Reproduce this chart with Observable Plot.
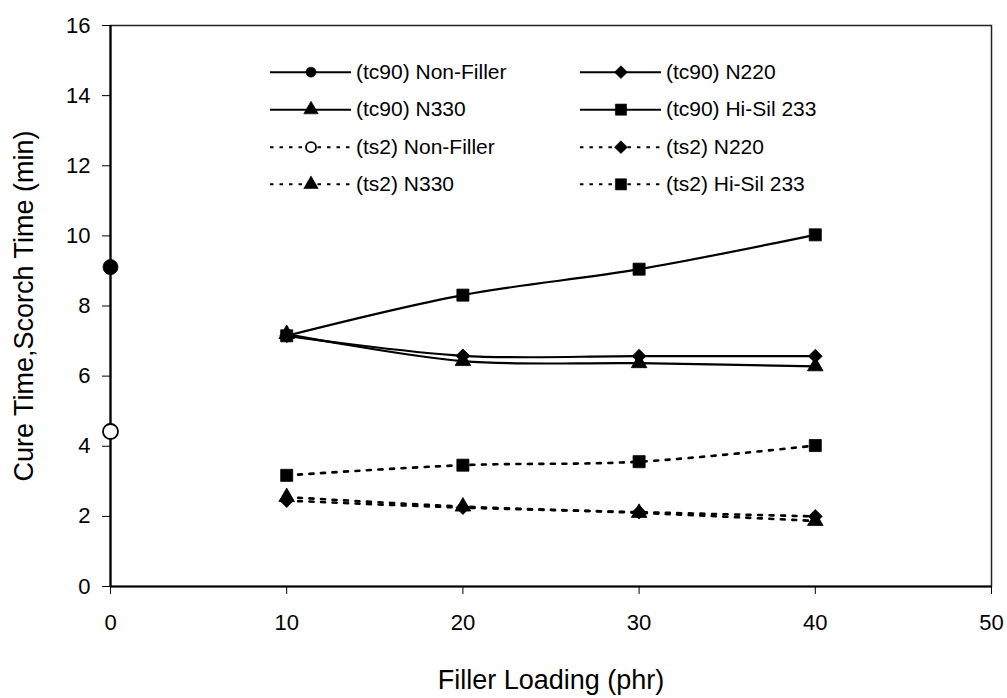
<!DOCTYPE html>
<html>
<head>
<meta charset="utf-8">
<script src="https://cdn.jsdelivr.net/npm/d3@7"></script>
<script src="https://cdn.jsdelivr.net/npm/@observablehq/plot@0.6"></script>
<style>
  html, body { margin: 0; padding: 0; background: #fff; }
  #chart svg { display: block; }
</style>
</head>
<body>
<div id="chart"></div>
<script>
// ---- Data ----
const fillerLoading = [10, 20, 30, 40];
const nonFillerLoading = [0];

const tc90NonFiller = [9.11];
const tc90N220 = [7.15, 6.58, 6.57, 6.57];
const tc90N330 = [7.2, 6.43, 6.37, 6.28];
const tc90HiSil = [7.15, 8.31, 9.05, 10.03];

const ts2NonFiller = [4.42];
const ts2N220 = [2.45, 2.25, 2.12, 2.0];
const ts2N330 = [2.55, 2.28, 2.1, 1.87];
const ts2HiSil = [3.17, 3.46, 3.56, 4.02];

const seriesLabels = [
  "(tc90) Non-Filler", "(tc90) N220",
  "(tc90) N330", "(tc90) Hi-Sil 233",
  "(ts2) Non-Filler", "(ts2) N220",
  "(ts2) N330", "(ts2) Hi-Sil 233"
];

const xTicks = [0, 10, 20, 30, 40, 50];
const yTicks = [0, 2, 4, 6, 8, 10, 12, 14, 16];
const xTitle = "Filler Loading (phr)";
const yTitle = "Cure Time,Scorch Time (min)";

// ---- Series table built from the arrays ----
const series = [
  {label: seriesLabels[0], xs: nonFillerLoading, ys: tc90NonFiller, symbol: "circle",   dashed: false, open: false},
  {label: seriesLabels[1], xs: fillerLoading,    ys: tc90N220,      symbol: "diamond2", dashed: false, open: false},
  {label: seriesLabels[2], xs: fillerLoading,    ys: tc90N330,      symbol: "triangle", dashed: false, open: false},
  {label: seriesLabels[3], xs: fillerLoading,    ys: tc90HiSil,     symbol: "square",   dashed: false, open: false},
  {label: seriesLabels[4], xs: nonFillerLoading, ys: ts2NonFiller,  symbol: "circle",   dashed: true,  open: true},
  {label: seriesLabels[5], xs: fillerLoading,    ys: ts2N220,       symbol: "diamond2", dashed: true,  open: false},
  {label: seriesLabels[6], xs: fillerLoading,    ys: ts2N330,       symbol: "triangle", dashed: true,  open: false},
  {label: seriesLabels[7], xs: fillerLoading,    ys: ts2HiSil,      symbol: "square",   dashed: true,  open: false}
];

const points = series.flatMap((s, si) => s.xs.map((x, i) => ({series: s.label, si, x, y: s.ys[i], symbol: s.symbol, open: s.open, dashed: s.dashed})));

// marker radius per symbol (Plot symbol size = pi r^2)
const dataR = {circle: 7.5, diamond2: 6.2, triangle: 5.8, square: 6.8};
const legendR = {circle: 5, diamond2: 5.8, triangle: 5.4, square: 6.3};

// ---- Legend layout (in data units inside the frame) ----
const legendRowY = [14.67, 13.6, 12.53, 11.47];
const legendColX = [9.08, 26.67];
const legendLineLen = 4.6;
const legendItems = series.map((s, i) => {
  const col = i % 2, row = Math.floor(i / 2);
  const x1 = legendColX[col];
  return {label: s.label, symbol: s.symbol, open: s.open, dashed: s.dashed,
          y: legendRowY[row], x1, x2: x1 + legendLineLen, xm: x1 + legendLineLen / 2, xt: x1 + legendLineLen + 0.25};
});

const font = "'Liberation Sans', Arial, Helvetica, sans-serif";

const marks = [];

// axis lines (thicker left & bottom) and thin frame
marks.push(Plot.frame({stroke: "#222", strokeWidth: 1.5}));
marks.push(Plot.ruleX([0], {stroke: "#000", strokeWidth: 2.2}));
marks.push(Plot.ruleY([0], {stroke: "#000", strokeWidth: 2.2}));

// data lines
for (const s of series) {
  if (s.xs.length < 2) continue;
  const pts = points.filter(p => p.series === s.label);
  marks.push(Plot.line(pts, {
    x: "x", y: "y", curve: "catmull-rom",
    stroke: "#000", strokeWidth: s.dashed ? 2.6 : 2.2,
    strokeDasharray: s.dashed ? "4,7.5" : null
  }));
}

// data markers
for (const s of series) {
  const pts = points.filter(p => p.series === s.label);
  marks.push(Plot.dot(pts, {
    x: "x", y: "y", symbol: () => s.symbol, r: dataR[s.symbol],
    fill: s.open ? "#fff" : "#000", stroke: "#000", strokeWidth: s.open ? 1.8 : 0.8
  }));
}

// legend
for (const it of legendItems) {
  marks.push(Plot.ruleY([it], {
    y: "y", x1: "x1", x2: "x2", stroke: "#000", strokeWidth: 2,
    strokeDasharray: it.dashed ? "3.5,6" : null
  }));
  marks.push(Plot.dot([it], {
    x: "xm", y: "y", symbol: () => it.symbol, r: legendR[it.symbol],
    fill: it.open ? "#fff" : "#000", stroke: "#000", strokeWidth: it.open ? 1.8 : 0.6
  }));
  marks.push(Plot.text([it], {
    x: "xt", y: "y", text: "label", textAnchor: "start", fontSize: 21, fill: "#000"
  }));
}

// axes
marks.push(Plot.axisX({ticks: xTicks, tickSize: 8, tickPadding: 20, fontSize: 22, label: null, tickFormat: d => String(d)}));
marks.push(Plot.axisY({ticks: yTicks, tickSize: 8, tickPadding: 12, fontSize: 22, label: null, tickFormat: d => String(d)}));

// axis titles
marks.push(Plot.text([xTitle], {text: d => d, frameAnchor: "bottom", lineAnchor: "middle", textAnchor: "middle", dy: 94, fontSize: 27, fill: "#000"}));
marks.push(Plot.text([yTitle], {text: d => d, frameAnchor: "left", rotate: -90, textAnchor: "middle", lineAnchor: "middle", dx: -86, fontSize: 27, fill: "#000"}));

const chart = Plot.plot({
  width: 1007,
  height: 698,
  marginLeft: 110,
  marginRight: 16,
  marginTop: 25,
  marginBottom: 112,
  x: {domain: [0, 50]},
  y: {domain: [0, 16]},
  symbol: {type: "identity"},
  style: {fontFamily: font, color: "#000", background: "#fff", overflow: "visible"},
  marks
});

document.getElementById("chart").appendChild(chart);
</script>
</body>
</html>
